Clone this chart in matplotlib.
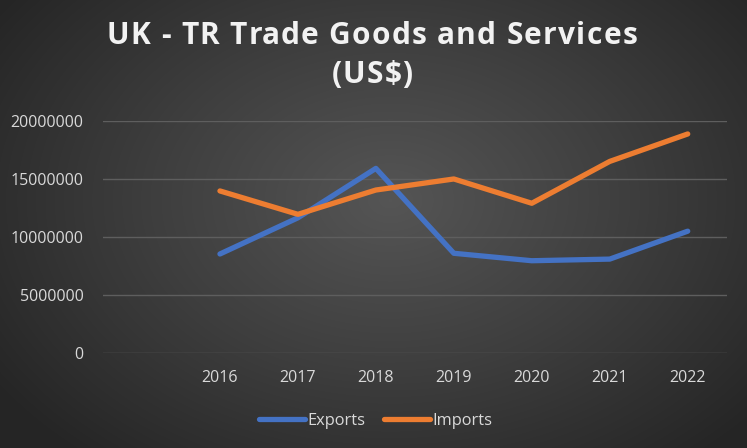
import numpy as np
import matplotlib.pyplot as plt
from matplotlib.colors import LinearSegmentedColormap

# 数据
years = ['', '2016', '2017', '2018', '2019', '2020', '2021', '2022']
exports = [np.nan, 8540000, 11650000, 15900000, 8600000, 7960000, 8100000, 10500000]
imports = [np.nan, 13960000, 11950000, 14040000, 14990000, 12900000, 16500000, 18860000]
title_lines = ['UK - TR Trade Goods and Services', '(US$)']

W, H = 747, 448
fig = plt.figure(figsize=(W / 100, H / 100), dpi=100)

# 径向渐变背景
bg = fig.add_axes([0, 0, 1, 1])
yy, xx = np.mgrid[0:H, 0:W]
r = np.sqrt(((xx - 390) / 480.0) ** 2 + ((yy - 200) / 340.0) ** 2)
r = np.clip(r, 0, 1)
cmap = LinearSegmentedColormap.from_list('bg', ['#555555', '#3e3e3e', '#252525'])
bg.imshow(r, cmap=cmap, aspect='auto', extent=[0, W, H, 0])
bg.axis('off')

ax = fig.add_axes([103 / W, 1 - 353.3 / H, (726.7 - 103) / W, (353.3 - 120.7) / H])
ax.patch.set_alpha(0)
x = np.arange(len(years))
ax.plot(x, exports, color='#4472C4', lw=3.8, solid_capstyle='round',
        solid_joinstyle='round', label='Exports')
ax.plot(x, imports, color='#ED7D31', lw=3.8, solid_capstyle='round',
        solid_joinstyle='round', label='Imports')

ax.set_xlim(-0.5, len(years) - 0.5)
ax.set_ylim(0, 20000000)
ax.set_yticks(np.arange(0, 20000001, 5000000))
ax.set_yticklabels([f'{v}' for v in range(0, 20000001, 5000000)])
ax.set_xticks(x)
ax.set_xticklabels(years)
ax.grid(axis='y', color='#5e5e5e', lw=1)
ax.set_axisbelow(True)
for s in ax.spines.values():
    s.set_visible(False)
ax.tick_params(length=0, colors='#d9d9d9', labelsize=11.5)
ax.tick_params(axis='y', pad=14)
ax.tick_params(axis='x', pad=12)
for t in ax.get_xticklabels() + ax.get_yticklabels():
    t.set_fontfamily('Open Sans')

# 标题带字间距, 逐字放置
renderer = fig.canvas.get_renderer()
track = 1.3  # 每个字符额外像素


def spaced_title(s, cx, cy):
    kw = dict(color='#f2f2f2', fontsize=21.5, fontweight='bold', family='Open Sans',
              va='baseline', ha='left')
    widths = []
    for i in range(len(s)):
        # 用前缀宽度差估计每个字符的前进量
        t = fig.text(0, 0, s[:i + 1] + '|', **kw)
        w1 = t.get_window_extent(renderer).width
        t.remove()
        widths.append(w1)
    bar = fig.text(0, 0, '|', **kw)
    wbar = bar.get_window_extent(renderer).width
    bar.remove()
    adv = [widths[0] - wbar] + [widths[i] - widths[i - 1] for i in range(1, len(s))]
    total = sum(adv) + track * (len(s) - 1)
    px = cx - total / 2
    for ch, a in zip(s, adv):
        fig.text(px / W, 1 - cy / H, ch, **kw)
        px += a + track


spaced_title(title_lines[0], 372, 44.5)
spaced_title(title_lines[1], 372, 83)

leg = fig.legend(loc='center', bbox_to_anchor=(0.503, 1 - 421 / H), ncol=2, frameon=False,
                 handlelength=2.8, handletextpad=0.15, columnspacing=1.1,
                 prop={'family': 'Open Sans', 'size': 11.8})
for t in leg.get_texts():
    t.set_color('#d9d9d9')

fig.savefig('out.png', dpi=100)
